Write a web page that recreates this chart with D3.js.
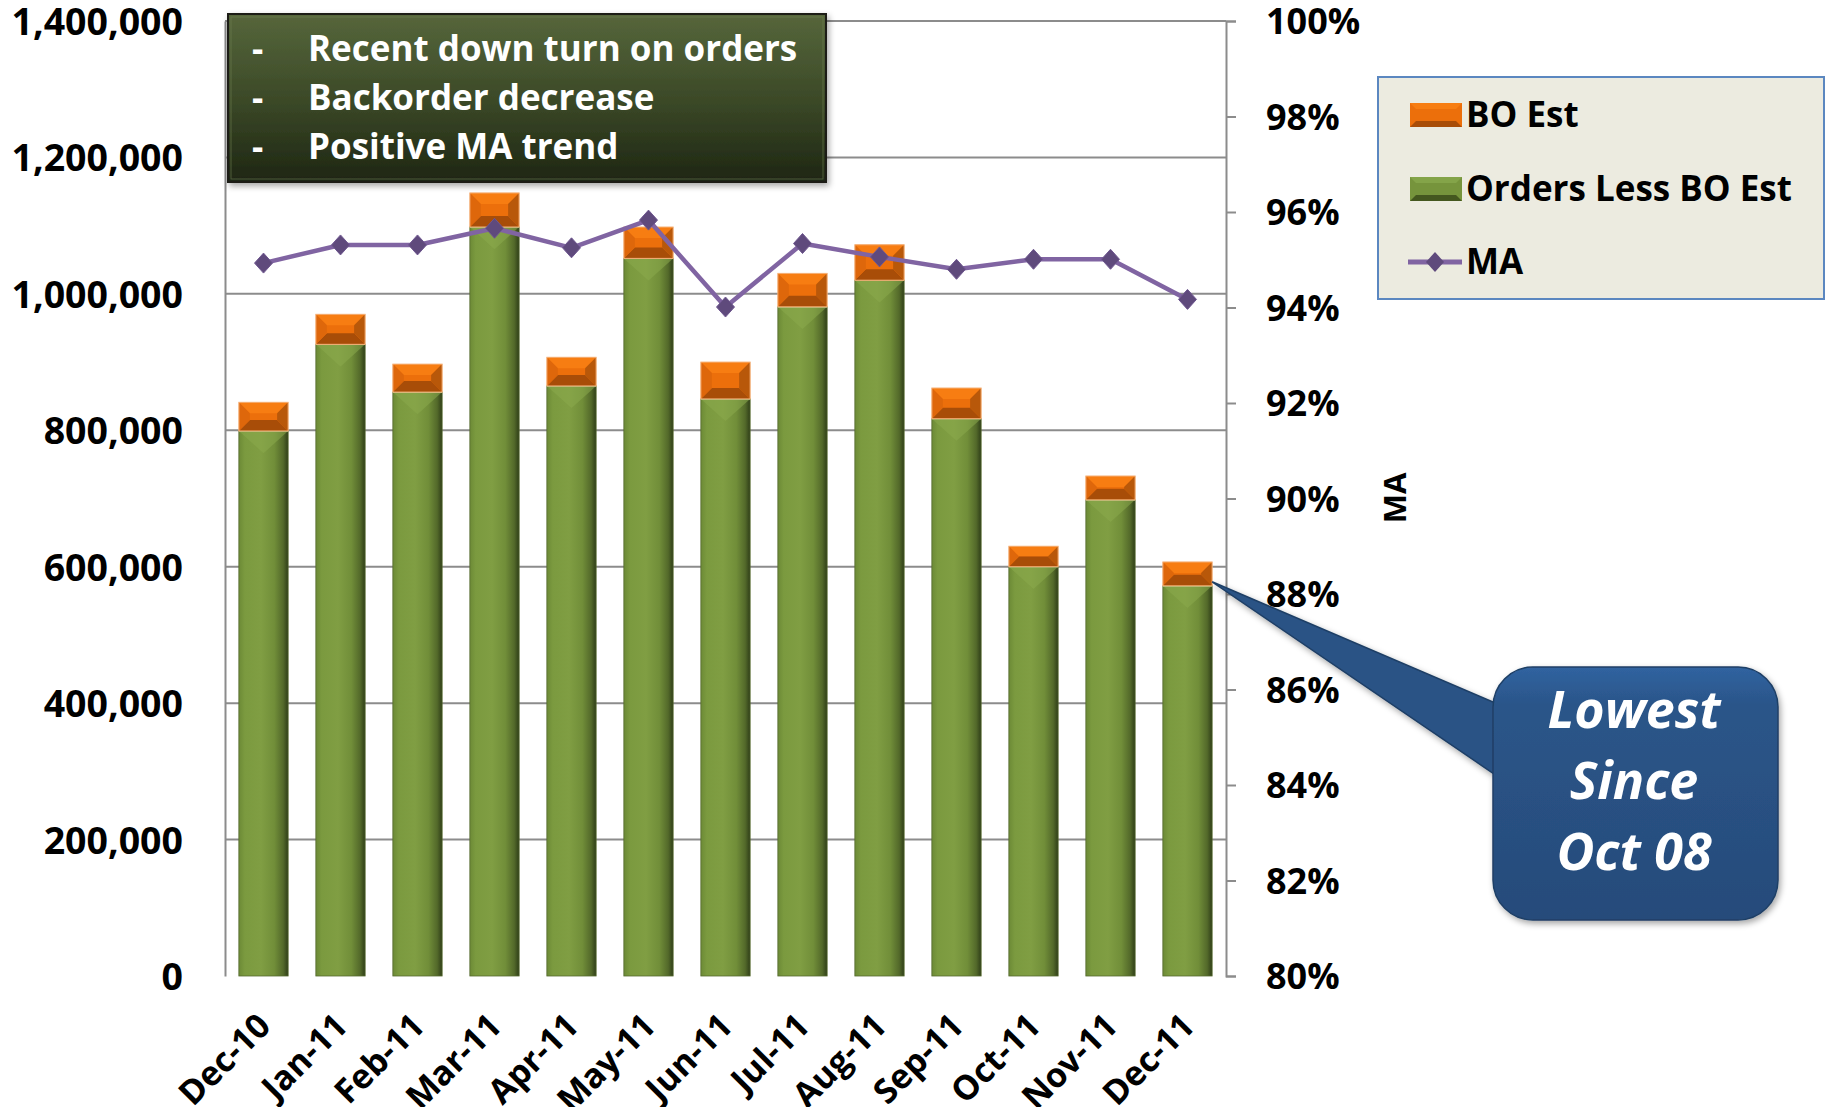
<!DOCTYPE html>
<html>
<head>
<meta charset="utf-8">
<script src="https://cdn.jsdelivr.net/npm/d3@7"></script>
<style>
  body { margin: 0; background: #fff; }
  svg { display: block; font-family: "Open Sans", "Noto Sans", sans-serif; }
</style>
</head>
<body>
<svg id="chart" width="1826" height="1107"></svg>
<script>
// chart data
const months = ['Dec-10', 'Jan-11', 'Feb-11', 'Mar-11', 'Apr-11', 'May-11', 'Jun-11',
    'Jul-11', 'Aug-11', 'Sep-11', 'Oct-11', 'Nov-11', 'Dec-11'];
const ordersLessBO = [799000, 926000, 856000, 1098000, 865000, 1052000, 846000,
    981000, 1020000, 817000, 600000, 698000, 572000];
const boEst = [42000, 44000, 41000, 50000, 42000, 46000, 54000,
    49000, 52000, 45000, 30000, 35000, 35000];
const maValues = [0.9493, 0.9531, 0.9531, 0.9566, 0.9525, 0.9583, 0.9401,
    0.9534, 0.9506, 0.9480, 0.9501, 0.9501, 0.9417];
const leftTicks = [0, 200000, 400000, 600000, 800000, 1000000, 1200000, 1400000];
const rightTicks = [0.80, 0.82, 0.84, 0.86, 0.88, 0.90, 0.92, 0.94, 0.96, 0.98, 1.00];
const noteLines = ['Recent down turn on orders', 'Backorder decrease', 'Positive MA trend'];
const calloutLines = ['Lowest', 'Since', 'Oct 08'];
const legendItems = ['BO Est', 'Orders Less BO Est', 'MA'];

const svg = d3.select('#chart');
const plot = {left: 225, right: 1226, top: 21, bottom: 976};

const x = d3.scaleBand().domain(months).range([plot.left, plot.right])
    .paddingInner(0.36).paddingOuter(0.18);
const y = d3.scaleLinear().domain([0, 1400000]).range([plot.bottom, plot.top]);
const y2 = d3.scaleLinear().domain([0.8, 1.0]).range([plot.bottom, plot.top]);

// gradients
const defs = svg.append('defs');
const greenGrad = defs.append('linearGradient').attr('id', 'greenGrad');
[[0, '#6c8a36'], [0.12, '#7b9a3f'], [0.45, '#809e43'], [0.72, '#718e39'], [0.9, '#53692a'], [1, '#2f3e18']]
    .forEach(([o, c]) => greenGrad.append('stop').attr('offset', o).attr('stop-color', c));
const boxGrad = defs.append('linearGradient').attr('id', 'boxGrad')
    .attr('x1', 0).attr('y1', 0).attr('x2', 0).attr('y2', 1);
[[0, '#56663b'], [0.5, '#3c4a28'], [1, '#1e2613']]
    .forEach(([o, c]) => boxGrad.append('stop').attr('offset', o).attr('stop-color', c));
const calloutGrad = defs.append('linearGradient').attr('id', 'calloutGrad')
    .attr('x1', 0).attr('y1', 0).attr('x2', 0).attr('y2', 1);
[[0, '#3063a0'], [0.15, '#2b5589'], [1, '#264b7a']]
    .forEach(([o, c]) => calloutGrad.append('stop').attr('offset', o).attr('stop-color', c));
const shadow = defs.append('filter').attr('id', 'shadow').attr('x', -0.1).attr('y', -0.1)
    .attr('width', 1.3).attr('height', 1.3);
shadow.append('feDropShadow').attr('dx', 2).attr('dy', 3).attr('stdDeviation', 3)
    .attr('flood-color', '#000').attr('flood-opacity', 0.35);

// gridlines
svg.append('g').selectAll('line').data(leftTicks.slice(1)).join('line')
    .attr('x1', plot.left).attr('x2', plot.right)
    .attr('y1', (d) => y(d)).attr('y2', (d) => y(d))
    .attr('stroke', '#8c8c8c').attr('stroke-width', 2);

// left axis
const leftAxis = svg.append('g').attr('transform', `translate(${plot.left},0)`)
    .call(d3.axisLeft(y).tickValues(leftTicks).tickSize(0).tickPadding(42).tickFormat(d3.format(',')));
leftAxis.select('.domain').attr('stroke', '#8c8c8c').attr('stroke-width', 2);
leftAxis.selectAll('text').attr('font-size', 37.5).attr('font-weight', 700).attr('fill', '#000')
    .attr('font-family', '"Open Sans", sans-serif').attr('dy', '0.36em');

// right axis
const rightAxis = svg.append('g').attr('transform', `translate(${plot.right},0)`)
    .call(d3.axisRight(y2).tickValues(rightTicks).tickSize(10).tickPadding(30).tickFormat(d3.format('.0%')));
rightAxis.select('.domain').attr('stroke', '#8c8c8c').attr('stroke-width', 2);
rightAxis.selectAll('line').attr('stroke', '#8c8c8c').attr('stroke-width', 2);
rightAxis.selectAll('text').attr('font-size', 36).attr('font-weight', 700).attr('fill', '#000')
    .attr('font-family', '"Open Sans", sans-serif').attr('dy', '0.36em');

svg.append('text').attr('transform', 'translate(1406,498) rotate(-90)')
    .attr('text-anchor', 'middle').attr('font-size', 31).attr('font-weight', 700).text('MA');

// bars
const rows = months.map((m, i) => ({month: m, green: ordersLessBO[i], bo: boEst[i]}));
const bw = x.bandwidth();

const greenBars = svg.append('g').selectAll('g').data(rows).join('g');
greenBars.append('rect')
    .attr('x', (d) => x(d.month)).attr('width', bw)
    .attr('y', (d) => y(d.green)).attr('height', (d) => y(0) - y(d.green))
    .attr('fill', 'url(#greenGrad)').attr('stroke', '#55692e').attr('stroke-width', 0.8);
// bevel highlight at the top of each green bar
greenBars.append('path')
    .attr('d', (d) => {
        const x0 = x(d.month), x1 = x0 + bw, t = y(d.green);
        return `M${x0},${t}L${x1},${t}L${x0 + bw / 2},${t + bw * 0.45}Z`;
    })
    .attr('fill', '#8aa94c').attr('opacity', 0.55);
greenBars.append('line')
    .attr('x1', (d) => x(d.month)).attr('x2', (d) => x(d.month) + bw)
    .attr('y1', (d) => y(d.green)).attr('y2', (d) => y(d.green))
    .attr('stroke', '#c9d9a4').attr('stroke-width', 1.2);

const boBars = svg.append('g').selectAll('g').data(rows).join('g');
const bevel = (d) => {
    const x0 = x(d.month), x1 = x0 + bw, t = y(d.green + d.bo), b = y(d.green);
    const s = Math.min((b - t) / 2, 11);
    return {x0, x1, t, b, s};
};
boBars.append('rect')
    .attr('x', (d) => x(d.month)).attr('width', bw)
    .attr('y', (d) => y(d.green + d.bo)).attr('height', (d) => y(d.green) - y(d.green + d.bo))
    .attr('fill', '#ec6f0b');
boBars.append('path').attr('fill', '#f77d12')
    .attr('d', (d) => { const v = bevel(d); return `M${v.x0},${v.t}L${v.x1},${v.t}L${v.x1 - v.s},${v.t + v.s}L${v.x0 + v.s},${v.t + v.s}Z`; });
boBars.append('path').attr('fill', '#a84d08')
    .attr('d', (d) => { const v = bevel(d); return `M${v.x0},${v.b}L${v.x1},${v.b}L${v.x1 - v.s},${v.b - v.s}L${v.x0 + v.s},${v.b - v.s}Z`; });
boBars.append('path').attr('fill', '#b8580a')
    .attr('d', (d) => { const v = bevel(d); return `M${v.x1},${v.t}L${v.x1},${v.b}L${v.x1 - v.s},${v.b - v.s}L${v.x1 - v.s},${v.t + v.s}Z`; });
boBars.append('path').attr('fill', '#de670b')
    .attr('d', (d) => { const v = bevel(d); return `M${v.x0},${v.t}L${v.x0},${v.b}L${v.x0 + v.s},${v.b - v.s}L${v.x0 + v.s},${v.t + v.s}Z`; });
boBars.append('rect')
    .attr('x', (d) => x(d.month)).attr('width', bw)
    .attr('y', (d) => y(d.green + d.bo)).attr('height', (d) => y(d.green) - y(d.green + d.bo))
    .attr('fill', 'none').attr('stroke', '#f5b27a').attr('stroke-width', 1);

// MA line
const maPts = months.map((m, i) => [x(m) + bw / 2, y2(maValues[i])]);
svg.append('path').datum(maPts)
    .attr('d', d3.line())
    .attr('fill', 'none').attr('stroke', '#8064a2').attr('stroke-width', 4.5)
    .attr('stroke-linejoin', 'round');
svg.append('g').selectAll('path').data(maPts).join('path')
    .attr('transform', (d) => `translate(${d[0]},${d[1]})`)
    .attr('d', 'M0,-10L9,0L0,10L-9,0Z')
    .attr('fill', '#5f4a7c').attr('stroke', '#6f5790').attr('stroke-width', 1);

// category labels
svg.append('g').selectAll('text').data(months).join('text')
    .attr('transform', (d) => `translate(${x(d) + bw / 2 + 9},${plot.bottom + 52}) rotate(-45)`)
    .attr('text-anchor', 'end').attr('font-size', 34).attr('font-weight', 700)
    .text((d) => d);

// note box
const note = svg.append('g');
note.append('rect').attr('x', 228).attr('y', 14).attr('width', 598).attr('height', 168)
    .attr('fill', 'url(#boxGrad)').attr('stroke', '#1b1f12').attr('stroke-width', 2)
    .attr('filter', 'url(#shadow)');
note.append('rect').attr('x', 231).attr('y', 17).attr('width', 592).attr('height', 162)
    .attr('fill', 'none').attr('stroke', '#6e7e52').attr('stroke-width', 1).attr('opacity', 0.6);
noteLines.forEach((t, i) => {
    note.append('text').attr('x', 252).attr('y', 61 + i * 49)
        .attr('fill', '#fff').attr('font-size', 35).attr('font-weight', 700).text('-');
    note.append('text').attr('x', 308).attr('y', 61 + i * 49)
        .attr('fill', '#fff').attr('font-size', 35).attr('font-weight', 700).text(t);
});

// legend
const legend = svg.append('g');
legend.append('rect').attr('x', 1378).attr('y', 77).attr('width', 446).attr('height', 222)
    .attr('fill', '#ecebe0').attr('stroke', '#5b87c0').attr('stroke-width', 2);
const swatch = (g, yy, face, top, bottom) => {
    g.append('rect').attr('x', 1410).attr('y', yy).attr('width', 52).attr('height', 24).attr('fill', face);
    g.append('path').attr('d', `M1410,${yy}L1462,${yy}L1456,${yy + 6}L1416,${yy + 6}Z`).attr('fill', top);
    g.append('path').attr('d', `M1410,${yy + 24}L1462,${yy + 24}L1456,${yy + 18}L1416,${yy + 18}Z`).attr('fill', bottom);
};
swatch(legend, 103, '#ec6f0b', '#f77d12', '#a84d08');
swatch(legend, 177, '#76943c', '#84a449', '#44571f');
legend.append('line').attr('x1', 1408).attr('x2', 1462).attr('y1', 262).attr('y2', 262)
    .attr('stroke', '#8064a2').attr('stroke-width', 5);
legend.append('path').attr('transform', 'translate(1435,262)').attr('d', 'M0,-10L9,0L0,10L-9,0Z')
    .attr('fill', '#5f4a7c');
legendItems.forEach((t, i) => {
    legend.append('text').attr('x', 1466).attr('y', [127, 201, 274][i])
        .attr('font-size', 35).attr('font-weight', 700).text(t);
});

// callout pointing at the last bar
const tipX = x('Dec-11') + bw, tipY = y(ordersLessBO[12]) - 4;
const callout = svg.append('g').attr('filter', 'url(#shadow)');
callout.append('path')
    .attr('d', `M${tipX},${tipY}L1500,705L1500,778Z`)
    .attr('fill', '#2a5385').attr('stroke', '#1f3f66').attr('stroke-width', 1.5);
callout.append('rect').attr('x', 1493).attr('y', 667).attr('width', 285).attr('height', 253)
    .attr('rx', 40).attr('fill', 'url(#calloutGrad)').attr('stroke', '#1f3f66').attr('stroke-width', 1.5);
calloutLines.forEach((t, i) => {
    svg.append('text').attr('x', 1634).attr('y', 728 + i * 71)
        .attr('text-anchor', 'middle').attr('fill', '#fff').attr('font-size', 52)
        .attr('font-weight', 700).attr('font-style', 'italic').text(t);
});
</script>
</body>
</html>
